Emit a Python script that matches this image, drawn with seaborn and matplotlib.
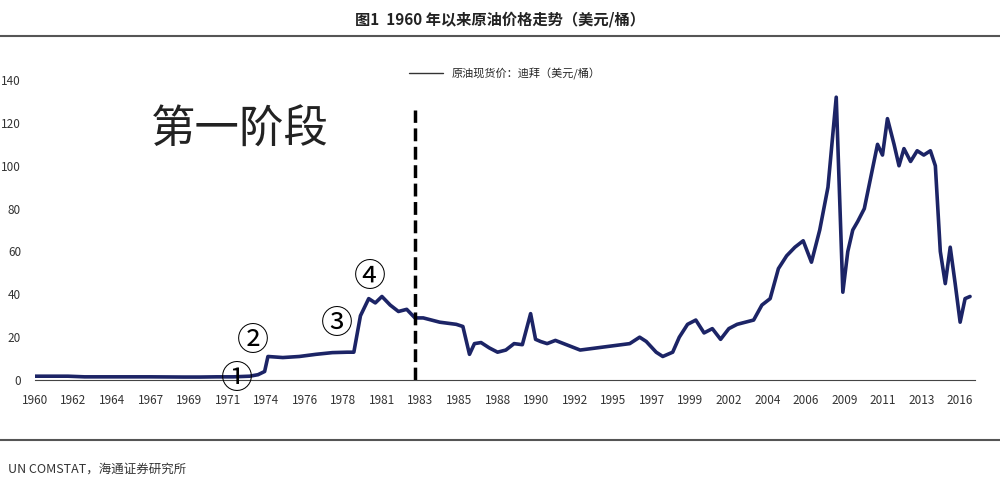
import numpy as np
import matplotlib
matplotlib.use("Agg")
import matplotlib.pyplot as plt
import seaborn as sns

sns.set_style("white")
plt.rcParams['font.family'] = ['Noto Sans CJK SC', 'DejaVu Sans']

# price (year, USD/barrel)
years = [1960.0, 1961.0, 1962.0, 1963.0, 1965.0, 1967.0, 1969.0, 1970.0, 1971.0, 1972.0, 1973.0, 1973.5, 1973.9,
         1974.1, 1975.0, 1976.0, 1977.0, 1978.0, 1978.9, 1979.3, 1979.7, 1980.2, 1980.6, 1981.0, 1981.5, 1982.0,
         1982.5, 1983.0, 1983.5, 1984.0, 1984.5, 1985.0, 1985.5, 1985.9, 1986.3, 1986.6, 1987.0, 1987.5,
         1988.0, 1988.5, 1989.0, 1989.5, 1990.0, 1990.3, 1990.6, 1991.0, 1991.5, 1992.0, 1993.0, 1994.0,
         1995.0, 1996.0, 1996.6, 1997.0, 1997.6, 1998.0, 1998.6, 1999.0, 1999.5, 2000.0, 2000.5, 2001.0,
         2001.5, 2002.0, 2002.5, 2003.0, 2003.5, 2004.0, 2004.5, 2005.0, 2005.5, 2006.0, 2006.5, 2007.0,
         2007.5, 2008.0, 2008.5, 2008.9, 2009.2, 2009.5, 2009.8, 2010.2, 2010.6, 2011.0, 2011.3, 2011.6,
         2012.0, 2012.3, 2012.6, 2013.0, 2013.4, 2013.8, 2014.2, 2014.5, 2014.8, 2015.1, 2015.4, 2015.7,
         2016.0, 2016.3, 2016.6]
prices = [1.8, 1.8, 1.8, 1.5, 1.5, 1.5, 1.4, 1.4, 1.5, 1.5, 1.8, 2.5, 4.0,
          11.0, 10.5, 11.0, 12.0, 12.8, 13.0, 13.0, 30.0, 38.0, 36.0, 39.0, 35.0,
          32.0, 33.0, 29.0, 29.0, 28.0, 27.0, 26.5, 26.0, 25.0, 12.0, 17.0, 17.5,
          15.0, 13.0, 14.0, 17.0, 16.5, 31.0, 19.0, 18.0, 17.0, 18.5, 17.0,
          14.0, 15.0, 16.0, 17.0, 20.0, 18.0, 13.0, 11.0, 13.0, 20.0, 26.0,
          28.0, 22.0, 24.0, 19.0, 24.0, 26.0, 27.0, 28.0, 35.0, 38.0, 52.0,
          58.0, 62.0, 65.0, 55.0, 70.0, 90.0, 132.0, 41.0, 60.0, 70.0, 74.0,
          80.0, 95.0, 110.0, 105.0, 122.0, 110.0, 100.0, 108.0, 102.0, 107.0,
          105.0, 107.0, 100.0, 60.0, 45.0, 62.0, 45.0, 27.0, 38.0, 39.0]
years = years[:len(prices)]

tick_labels = ["1960", "1962", "1964", "1967", "1969", "1971", "1974", "1976", "1978", "1981",
               "1983", "1985", "1988", "1990", "1992", "1995", "1997", "1999", "2002", "2004",
               "2006", "2009", "2011", "2013", "2016"]
y_ticks = [0, 20, 40, 60, 80, 100, 120, 140]

fig = plt.figure(figsize=(10, 4.86), dpi=100)
ax = fig.add_axes([0.035, 0.218, 0.94, 0.638])

sns.lineplot(x=years, y=prices, ax=ax, color="#1c2466", linewidth=2.6,
             label="原油现货价：迪拜（美元/桶）")
ax.set_xlim(1960.2, 2016.9)
ax.set_ylim(0, 144.7)
ax.set_xticks(np.linspace(1960, 2016, len(tick_labels)))
ax.set_xticklabels(tick_labels, fontsize=8.5, color="#333333")
ax.set_yticks(y_ticks)
ax.set_yticklabels([str(v) for v in y_ticks], fontsize=8.5, color="#333333")
ax.tick_params(axis="x", length=4, direction="in", pad=10)
ax.tick_params(axis="y", length=0, pad=10)
for s in ["top", "right", "left"]:
    ax.spines[s].set_visible(False)
ax.spines["bottom"].set_color("#444444")

leg = ax.legend(loc="upper center", bbox_to_anchor=(0.5, 1.04), frameon=False, fontsize=8,
                handlelength=3)
leg.get_lines()[0].set_linewidth(1)
leg.get_lines()[0].set_color("#333333")

ax.axvline(1983.0, ymin=0, ymax=126 / 144.7, color="black", linestyle="--", linewidth=2.5)
ax.text(1972.4, 117, "第一阶段", fontsize=32, ha="center", va="center", color="#222222")
for yr, val, lab in [(1972.2, 0.5, "①"), (1973.2, 18, "②"), (1978.3, 26, "③"), (1980.3, 48, "④")]:
    ax.text(yr, val, lab, fontsize=23, ha="center", va="center", color="black")

fig.text(0.5, 0.96, "图1  1960 年以来原油价格走势（美元/桶）", ha="center", va="center",
         fontsize=11, fontweight="bold", color="#222222")
fig.add_artist(plt.Line2D([0, 1], [0.925, 0.925], color="#555555", linewidth=1.5))
fig.add_artist(plt.Line2D([0, 1], [0.095, 0.095], color="#555555", linewidth=1.5))
fig.text(0.008, 0.035, "UN COMSTAT，海通证券研究所", fontsize=9, color="#333333", va="center")

fig.savefig("out.png", dpi=100)
